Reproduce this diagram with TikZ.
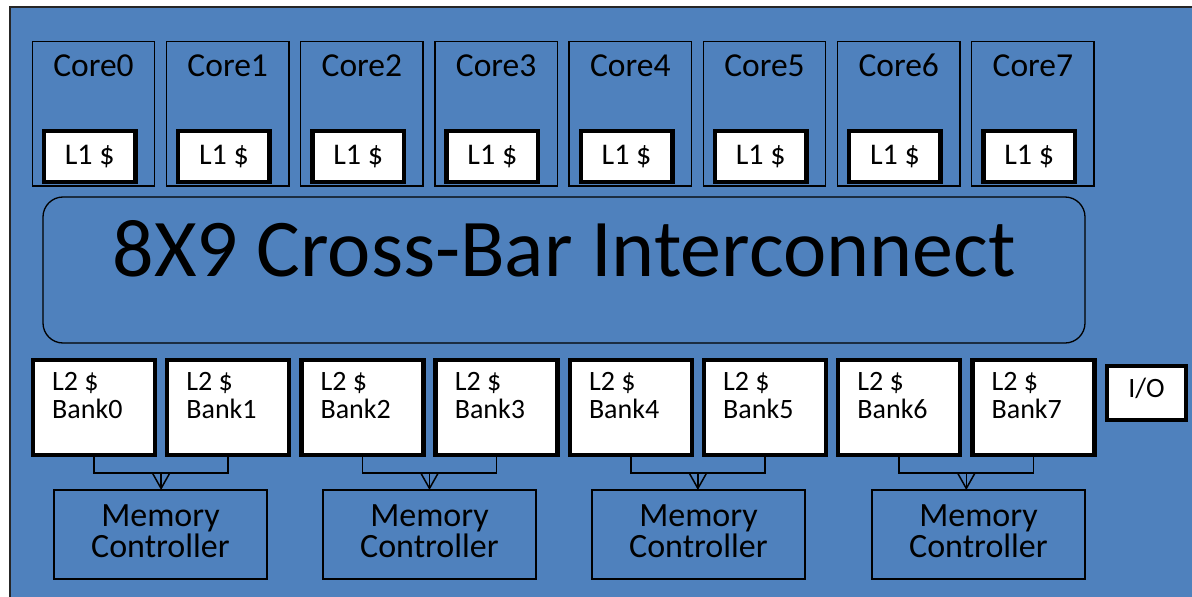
\documentclass[tikz,border=0pt]{standalone}
\usepackage{fontspec}
\setmainfont{Carlito}
\usepackage{tikz}
\usetikzlibrary{calc}
\usetikzlibrary{arrows.meta}

\definecolor{chipblue}{HTML}{4F81BD}

\begin{document}
\begin{tikzpicture}[x = 1pt, y = -1pt,
    corebox/.style = {draw, line width = 1.3pt, outer sep = 0pt, anchor = north west,
        minimum width = 122.4pt, inner xsep = 0pt, inner ysep = 13.7pt,
        text height = 21.6pt, text depth = 95.7pt, font = \fontsize{33.5}{40}\selectfont},
    cachebox/.style = {draw, fill = white, line width = 4.5pt, outer sep = 0pt, anchor = north west,
        minimum width = 91.5pt, minimum height = 51pt, inner sep = 0pt,
        font = \fontsize{30}{32}\selectfont},
    bankbox/.style = {draw, fill = white, line width = 4.5pt, outer sep = 0pt, anchor = north west,
        minimum width = 122pt, minimum height = 95pt, inner sep = 0pt},
    banktext/.style = {anchor = north west, inner sep = 0pt, align = left,
        font = \fontsize{28}{28}\selectfont},
    mcbox/.style = {draw, line width = 1.3pt, outer sep = 0pt, anchor = north west,
        minimum width = 213pt, minimum height = 89pt, align = center, text depth = 6pt,
        font = \fontsize{34}{31}\selectfont},
    link/.style = {line width = 1.5pt}]
    \useasboundingbox (0,0) rectangle (1192,597);
    \fill[white] (0,0) rectangle (1192,597);
    \clip (0,0) rectangle (1192,597);

    % chip outline
    \draw[line width = 2pt, draw = black!85, fill = chipblue] (10,7) rectangle (1215,620);

    % interconnect
    \node[draw, line width = 1.3pt, rounded corners = 20pt, outer sep = 0pt, anchor = north west,
        minimum width = 1042pt, inner ysep = 26pt, text height = 53pt, text depth = 41pt,
        font = \fontsize{82}{90}\selectfont] (xbar) at (43,197) {8X9 Cross-Bar Interconnect};

    % cores with their L1 caches
    \foreach \i in {0,...,7}
    {
        \node[corebox] (core\i) at (32.3 + 134.2*\i, 41.3) {Core\i};
        \node[cachebox] (l1\i) at ($(core\i.north west) + (11.7,89.7)$) {L1 \$};
    }

    % L2 banks
    \foreach \i in {0,...,7}
    {
        \node[bankbox] (bank\i) at (33 + 134.2*\i, 360) {};
        \node[banktext] (banklbl\i) at ($(bank\i.north west) + (19,12)$) {L2 \$\\Bank\i};
    }

    \node[draw, fill = white, line width = 4.5pt, outer sep = 0pt, anchor = north west,
        minimum width = 79pt, inner ysep = 13pt, text height = 18pt, text depth = 10pt,
        font = \fontsize{28}{30}\selectfont] (io) at (1107,366) {I/O};

    % memory controllers, one per pair of banks
    \foreach \x [count = \k from 0] in {54,323,592,872}
    {
        \node[mcbox] (mc\k) at (\x,490) {Memory\\Controller};
    }

    \foreach \k [evaluate = \k as \a using int(2*\k),
                 evaluate = \k as \b using int(2*\k+1)] in {0,...,3}
    {
        \draw[link] (bank\a.south) -- ++(0,18) -| (bank\b.south);
        \coordinate (jn\k) at ($(bank\a.south)!0.5!(bank\b.south) + (0,18)$);
        \draw[link, -{Straight Barb[length = 16pt, width = 18pt]}] (jn\k) -- (jn\k |- mc\k.north);
    }
\end{tikzpicture}
\end{document}
